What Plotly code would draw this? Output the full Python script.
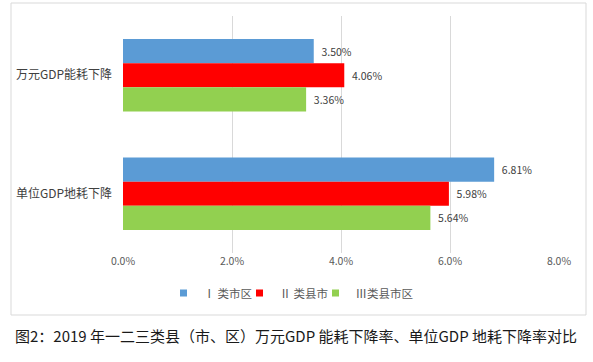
import plotly.graph_objects as go

categories = ["万元GDP能耗下降", "单位GDP地耗下降"]
series_names = ["Ⅰ 类市区", "Ⅱ 类县市", "Ⅲ类县市区"]
series_values = [
    [3.50, 6.81],
    [4.06, 5.98],
    [3.36, 5.64],
]
colors = ["#5B9BD5", "#FF0000", "#92D050"]
tick_vals = [0, 2, 4, 6, 8]
tick_text = ["0.0%", "2.0%", "4.0%", "6.0%", "8.0%"]
caption = "图2：2019 年一二三类县（市、区）万元GDP 能耗下降率、单位GDP 地耗下降率对比"

fig = go.Figure()
for name, vals, c in zip(series_names, series_values, colors):
    fig.add_trace(go.Bar(
        y=categories, x=vals, name=name, orientation="h",
        marker=dict(color=c, line=dict(width=0)),
        text=[f"  {v:.2f}%" for v in vals], textposition="outside",
        textfont=dict(size=10.5, color="#404040"),
        cliponaxis=False, showlegend=False, hoverinfo="skip",
    ))
    fig.add_trace(go.Scatter(
        x=[None], y=[None], mode="markers", name=name,
        marker=dict(symbol="square", size=7, color=c),
        showlegend=True,
    ))
# invisible spacer entry so the last legend label is not clipped
fig.add_trace(go.Scatter(x=[None], y=[None], mode="markers", name=" ",
                         marker=dict(size=1, color="rgba(0,0,0,0)"), showlegend=True))

W, H = 593, 362
L, R, T, B = 123, 559, 16, 253

def px(x):
    return (x - L) / (R - L)

def py(y):
    return (B - y) / (B - T)

fig.update_layout(
    width=W, height=H,
    margin=dict(l=L, r=W - R, t=T, b=H - B, autoexpand=False),
    paper_bgcolor="white", plot_bgcolor="white",
    barmode="group", bargap=0.39, bargroupgap=0,
    font=dict(family="Noto Sans CJK SC, Noto Sans, sans-serif", color="#404040"),
    xaxis=dict(range=[0, 8], tickvals=tick_vals, ticktext=tick_text,
               showgrid=True, gridcolor="#D9D9D9", gridwidth=1,
               zeroline=False, showline=False, automargin=False,
               tickfont=dict(size=10.5, color="#595959"), ticks=""),
    yaxis=dict(autorange="reversed", showgrid=False, zeroline=False, showline=False,
               automargin=False,
               tickfont=dict(size=12, color="#404040"), ticks="", ticklabelstandoff=10),
    legend=dict(orientation="h", x=px(163.5), xanchor="left", y=py(293), yanchor="middle",
                font=dict(size=11.5, color="#595959"), traceorder="normal",
                itemwidth=30, itemsizing="trace", tracegroupgap=0,
                entrywidthmode="pixels", entrywidth=31, bgcolor="rgba(0,0,0,0)"),
    showlegend=True,
)

fig.add_shape(type="rect", xref="paper", yref="paper",
              x0=px(11), x1=px(586), y0=py(315), y1=py(3),
              line=dict(color="#D9D9D9", width=1), fillcolor="rgba(0,0,0,0)", layer="above")

fig.add_annotation(text=caption, xref="paper", yref="paper",
                   x=px(296), y=py(335), xanchor="center", yanchor="middle",
                   showarrow=False, font=dict(size=15, color="#1a1a1a",
                                              family="Noto Sans CJK SC"))

fig.write_html("out.html", config={"displayModeBar": False},
               post_script="document.body.style.margin='0';document.documentElement.style.overflow='hidden';")
